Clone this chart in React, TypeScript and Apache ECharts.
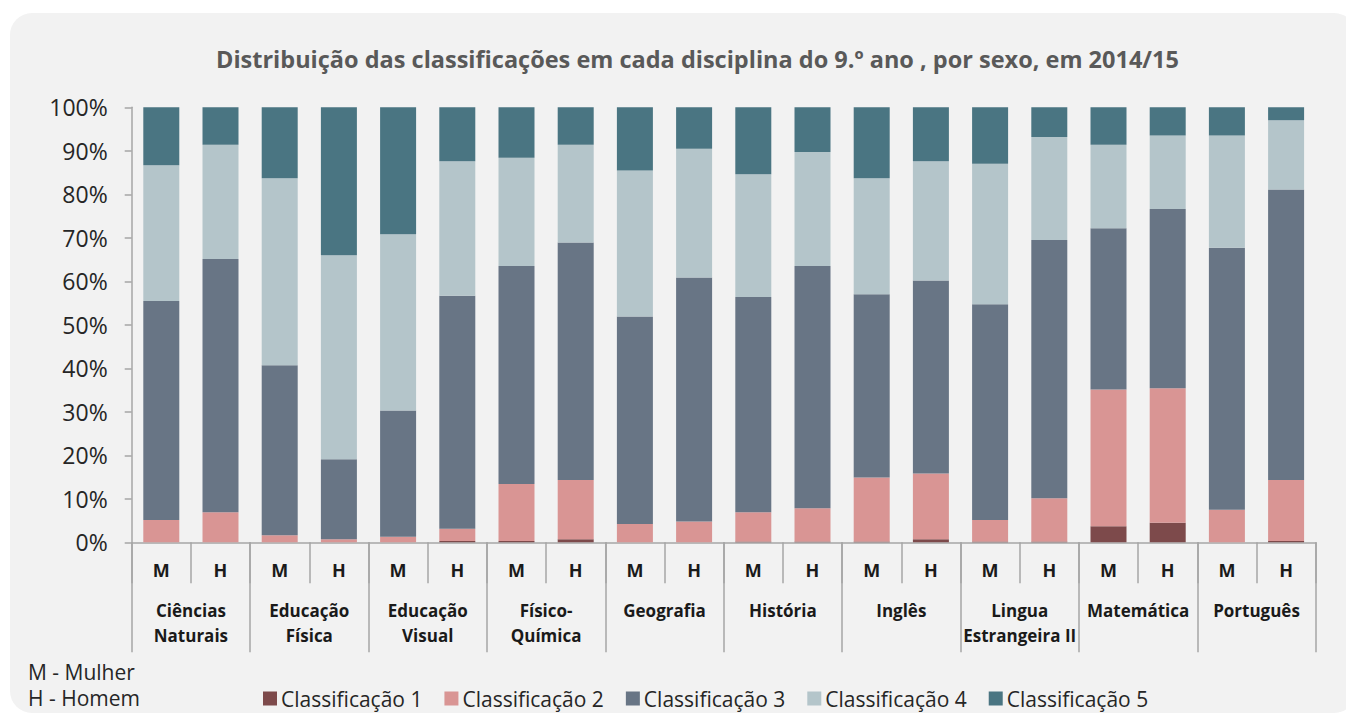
import React, { useEffect, useRef } from "react";
import * as echarts from "echarts";

const titleText = "Distribuição das classificações em cada disciplina do 9.º ano , por sexo, em 2014/15";
const sexLabels = ["M", "H", "M", "H", "M", "H", "M", "H", "M", "H", "M", "H", "M", "H", "M", "H", "M", "H", "M", "H"];
const subjects = [
  "Ciências\nNaturais",
  "Educação\nFísica",
  "Educação\nVisual",
  "Físico-\nQuímica",
  "Geografia",
  "História",
  "Inglês",
  "Lingua\nEstrangeira II",
  "Matemática",
  "Português",
];
const seriesNames = ["Classificação 1", "Classificação 2", "Classificação 3", "Classificação 4", "Classificação 5"];
const seriesColors = ["#7d4a4b", "#d99594", "#687585", "#b4c5ca", "#4a7582"];

// values in % per bar (M, H for each subject)
const class1 = [0, 0, 0, 0, 0, 0.3, 0.3, 0.7, 0, 0, 0.2, 0.2, 0.2, 0.7, 0.2, 0.2, 3.7, 4.5, 0, 0.3];
const class2 = [5.1, 6.9, 1.6, 0.7, 1.3, 2.8, 13.1, 13.6, 4.2, 4.8, 6.7, 7.6, 14.7, 15.1, 4.9, 9.9, 31.4, 30.9, 7.5, 14.0];
const class3 = [50.4, 58.2, 39.1, 18.4, 29.0, 53.6, 50.1, 54.6, 47.7, 56.1, 49.5, 55.7, 42.1, 44.4, 49.6, 59.4, 37.1, 41.2, 60.2, 66.8];
const class4 = [31.2, 26.3, 43.0, 46.9, 40.5, 30.9, 24.9, 22.5, 33.6, 29.6, 28.2, 26.2, 26.7, 27.4, 32.3, 23.7, 19.2, 16.9, 25.8, 15.9];
const class5 = [13.3, 8.6, 16.3, 34.0, 29.2, 12.4, 11.6, 8.6, 14.5, 9.5, 15.4, 10.3, 16.3, 12.4, 13.0, 6.8, 8.6, 6.5, 6.5, 3.0];
const yTicks = { min: 0, max: 100, interval: 10 };
const sexNote = ["M - Mulher", "H - Homem"];

const FONT = "'Open Sans', 'Noto Sans', sans-serif";

export default function App() {
  const ref = useRef<HTMLDivElement>(null);
  useEffect(() => {
    if (!ref.current) return;
    const chart = echarts.init(ref.current, null, { renderer: "svg" });
    const allData = [class1, class2, class3, class4, class5];
    const axisColor = "#a6a6a6";
    chart.setOption({
      animation: false,
      textStyle: { fontFamily: FONT },
      title: {
        text: titleText,
        left: 211,
        top: 42,
        textStyle: { fontFamily: FONT, fontSize: 23.5, fontWeight: "bold", color: "#595959" },
      },
      graphic: [
        {
          type: "rect",
          z: -10,
          silent: true,
          shape: { x: 10, y: 13, width: 1346, height: 700, r: 22 },
          style: { fill: "#f2f2f2" },
        },
        {
          type: "text",
          left: 28,
          top: 661,
          style: { text: sexNote[0], fontFamily: FONT, fontSize: 21, fill: "#262626" },
        },
        {
          type: "text",
          left: 28,
          top: 687,
          style: { text: sexNote[1], fontFamily: FONT, fontSize: 21, fill: "#262626" },
        },
      ],
      legend: {
        data: seriesNames,
        left: 258,
        top: 683,
        icon: "rect",
        itemWidth: 14,
        itemHeight: 14,
        itemGap: 22,
        textStyle: { fontFamily: FONT, fontSize: 21, color: "#262626", padding: [0, 0, 0, -1] },
      },
      grid: { left: 131.7, right: 30.3, top: 107.3, bottom: 172.7, containLabel: false },
      xAxis: [
        {
          type: "category",
          data: sexLabels,
          position: "bottom",
          axisLine: { show: true, lineStyle: { color: axisColor, width: 1.5 } },
          axisTick: { show: true, interval: 0, length: 41, lineStyle: { color: axisColor, width: 1.5 } },
          axisLabel: {
            interval: 0,
            margin: 17,
            fontFamily: FONT,
            fontSize: 18,
            fontWeight: "bold",
            color: "#1a1a1a",
            lineHeight: 22,
          },
        },
        {
          type: "category",
          data: subjects,
          position: "bottom",
          axisLine: { show: false },
          axisTick: { show: true, interval: 0, length: 110, lineStyle: { color: axisColor, width: 1.5 } },
          axisLabel: {
            interval: 0,
            margin: 56,
            fontFamily: FONT,
            fontSize: 17,
            fontWeight: "bold",
            color: "#1a1a1a",
            lineHeight: 25,
            verticalAlign: "top",
          },
        },
      ],
      yAxis: {
        type: "value",
        min: yTicks.min,
        max: yTicks.max,
        interval: yTicks.interval,
        axisLine: { show: true, lineStyle: { color: axisColor, width: 1.5 } },
        axisTick: { show: true, length: 7, lineStyle: { color: axisColor, width: 1.5 } },
        splitLine: { show: false },
        axisLabel: {
          formatter: "{value}%",
          fontFamily: FONT,
          fontSize: 23,
          color: "#262626",
          margin: 24,
        },
      },
      series: seriesNames.map((name, i) => ({
        name,
        type: "bar",
        stack: "total",
        xAxisIndex: 0,
        barWidth: 36,
        itemStyle: { color: seriesColors[i] },
        data: allData[i],
      })),
    });
    return () => chart.dispose();
  }, []);
  return (
    <div
      ref={ref}
      style={{ position: "fixed", left: 0, top: 0, width: 1346, height: 715, background: "#ffffff" }}
    />
  );
}
